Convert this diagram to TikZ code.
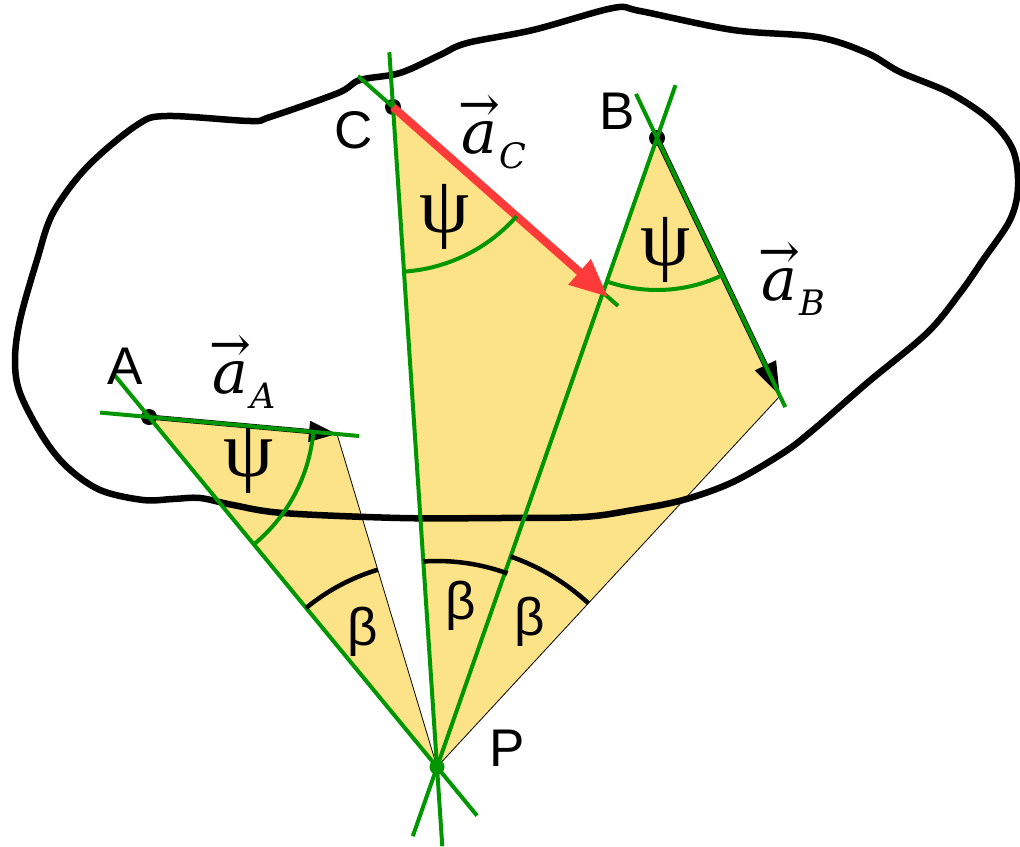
\documentclass[tikz,border=0pt]{standalone}
\usepackage{fontspec}
\setmainfont{Liberation Sans}
\newfontfamily\serifletters{DejaVu Serif}
\newfontfamily\greekletters{Liberation Serif}
\usetikzlibrary{arrows.meta, angles, calc}

\definecolor{sectorcolor}{RGB}{253, 227, 135}
\definecolor{guidecolor}{RGB}{0, 150, 0}
\definecolor{accelcolor}{RGB}{255, 58, 58}

\tikzset{
sector/.style={
  fill=sectorcolor,
  draw=black,
  line width=0.8pt,
  line join=round
},
body/.style={
  draw=black,
  line width=6.5pt
},
guide/.style={
  draw=guidecolor,
  line width=4pt
},
accel/.style={
  -{Triangle[length=28pt,width=20pt]},
  line width=5pt,
  draw=black
},
accelred/.style={
  -{Triangle[length=38pt,width=32pt]},
  line width=8pt,
  draw=accelcolor
},
psiarc/.style={
  draw=guidecolor,
  line width=4pt,
  angle radius=#1
},
betaarc/.style={
  draw=black,
  line width=4.5pt,
  angle radius=#1
},
pointlabel/.style={
  font=\fontsize{53}{60}\selectfont,
  inner sep=0pt
},
greeklabel/.style={
  font=\fontsize{80}{86}\selectfont\greekletters,
  inner sep=0pt
},
veclabel/.style={
  font=\fontsize{60}{66}\selectfont,
  inner sep=0pt,
  anchor=base west
}
}

\newcommand{\accvec}[1]{%
  \setbox0\hbox{\serifletters\itshape a}%
  \rlap{\makebox[\wd0][c]{\raisebox{32pt}{\fontsize{50}{50}\selectfont\serifletters →}}}%
  \box0\kern3pt\raisebox{-15pt}{\fontsize{35}{36}\selectfont\serifletters\itshape #1}}

\begin{document}
\begin{tikzpicture}[x=1pt, y=-1pt]
\useasboundingbox (0,0) rectangle (1020,846);

% ============================================================================
% POINTS
% ============================================================================
\coordinate (P) at (437,767);
\coordinate (A) at (149,417);
\coordinate (tipA) at (337,434);
\coordinate (C) at (393,107);
\coordinate (tipC) at (608,297);
\coordinate (B) at (657,138);
\coordinate (tipB) at (780,396);

% ============================================================================
% SECTORS
% ============================================================================
\filldraw[sector] (A) -- (tipA) -- (P) -- cycle;
\filldraw[sector] (C) -- (tipC) -- (P) -- cycle;
\filldraw[sector] (B) -- (tipB) -- (P) -- cycle;

% ============================================================================
% BODY
% ============================================================================
\draw[body] plot[smooth cycle, tension=0.55] coordinates {
  (37,260) (53,213) (87,167) (137,125) (167,116) (250,121) (270,117)
  (338,93) (360,80) (400,73) (440,55) (467,43) (533,30) (613,8) (640,11)
  (733,30) (817,37) (867,53) (900,72) (950,93) (990,120) (1013,150)
  (1018,187) (1010,220) (983,260) (960,293) (927,333) (867,383) (813,430)
  (783,453) (733,482) (683,500) (633,510) (583,517) (500,518) (400,518)
  (283,513) (233,505) (200,498) (173,499) (143,500) (100,490) (67,467)
  (43,437) (20,393) (15,360) (20,320)};

% points on the body
\fill (A) circle (8pt);
\fill (B) circle (8pt);
\fill (C) circle (8pt);

% ============================================================================
% ACCELERATIONS
% ============================================================================
\draw[accel] (A) -- (tipA);
\draw[accel, line width=5.5pt, -{Triangle[length=34pt,width=22pt]}] (B) -- (tipB);

% Lines
\draw[guide] ($(A)!-0.26!(tipA)$) -- ($(A)!1.117!(tipA)$);
\draw[guide] ($(A)!-0.125!(P)$) -- ($(A)!1.139!(P)$);
\draw[guide] ($(C)!-0.163!(tipC)$) -- ($(C)!1.047!(tipC)$);
\draw[guide] ($(C)!-0.083!(P)$) -- ($(C)!1.12!(P)$);
\draw[guide] ($(B)!-0.171!(tipB)$) -- ($(B)!1.043!(tipB)$);
\draw[guide] ($(B)!-0.084!(P)$) -- ($(B)!1.11!(P)$);

\draw[accelred] (C) -- (tipC);

% ============================================================================
% ANGLES
% ============================================================================
\pic[psiarc=165pt] {angle = P--A--tipA};
\pic[psiarc=165pt] {angle = P--C--tipC};
\pic[psiarc=152pt] {angle = P--B--tipB};
\pic[betaarc=206pt] {angle = tipA--P--A};
\pic[betaarc=206pt] {angle = tipC--P--C};
\pic[betaarc=223pt] {angle = tipB--P--B};

\fill[guidecolor] (P) circle (7.5pt);

% ============================================================================
% LABELS
% ============================================================================
\node[pointlabel] (labA) at (125,366) {A};
\node[pointlabel] (labC) at (354,130) {C};
\node[pointlabel] (labB) at (617,111) {B};
\node[pointlabel] (labP) at (507,748) {P};

\node[greeklabel] (psiA) at (249,461) {ψ};
\node[greeklabel] (psiC) at (445,217) {ψ};
\node[greeklabel] (psiB) at (666,250) {ψ};

\node[pointlabel] (betaA) at (363,632) {β};
\node[pointlabel] (betaC) at (461,606) {β};
\node[pointlabel] (betaB) at (530,622) {β};

\node[veclabel] (vecA) at (212,393) {\accvec{A}};
\node[veclabel] (vecC) at (461,153) {\accvec{C}};
\node[veclabel] (vecB) at (761,300) {\accvec{B}};

\end{tikzpicture}
\end{document}
